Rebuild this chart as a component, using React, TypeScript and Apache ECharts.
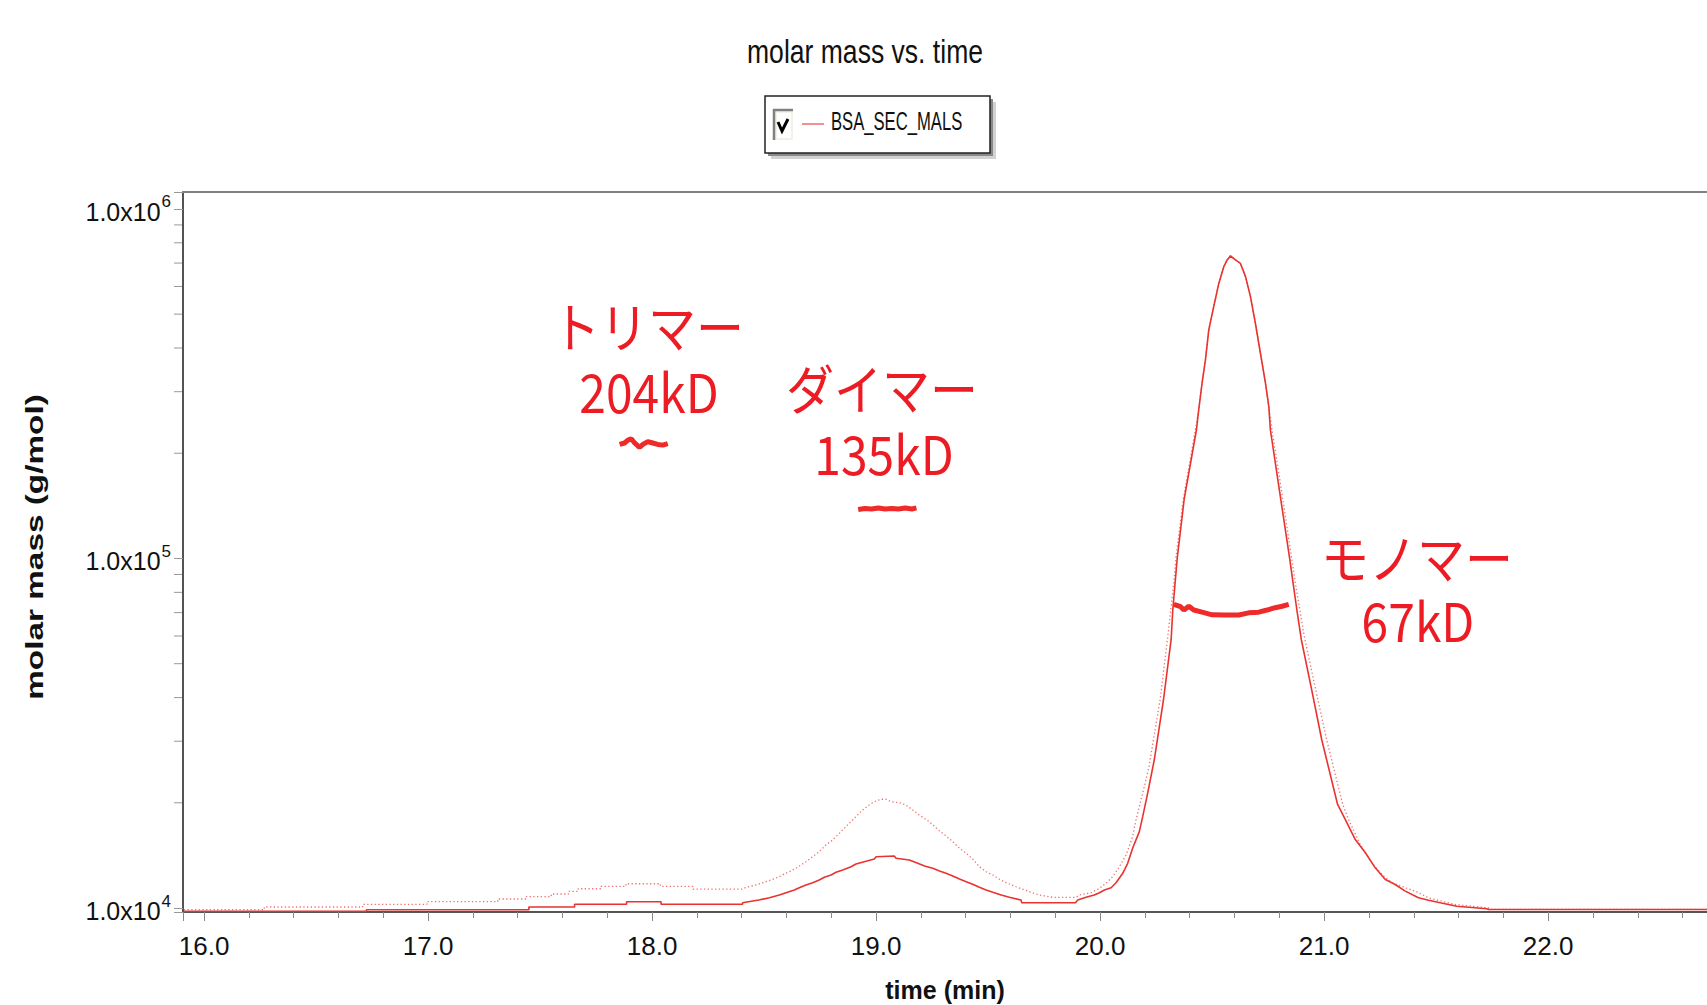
import React, { useEffect, useRef } from 'react';
import * as echarts from 'echarts';

const SANS = "'Liberation Sans', Arial, sans-serif";
const JP = "'Noto Sans CJK JP', sans-serif";

// axis extents (time in min, molar mass in g/mol)
const xMin = 15.906;
const xMax = 22.709;
const yMin = 9741;
const yMax = 1118000;

const legendNames = ['BSA_SEC_MALS'];
const chartTitle = 'molar mass vs. time';
const xName = 'time (min)';
const yName = 'molar mass (g/mol)';
const peakLabels = ['トリマー', '204kD', 'ダイマー', '135kD', 'モノマー', '67kD'];

// minor tick values of the log axis
const yMinorTicks = [20000, 30000, 40000, 50000, 60000, 70000, 80000, 90000,
  200000, 300000, 400000, 500000, 600000, 700000, 800000, 900000];

// solid trace [time, value]
const solidTrace: number[][] = [
  [15.91, 9785], [16.725, 9785], [16.725, 9889], [17.45, 9889], [17.45, 10066],
  [17.654, 10066], [17.654, 10247], [17.886, 10247], [17.886, 10424], [18.04, 10424],
  [18.04, 10247], [18.404, 10247], [18.404, 10355], [18.476, 10541], [18.524, 10702],
  [18.568, 10894], [18.598, 11060], [18.635, 11259], [18.657, 11431], [18.687, 11637],
  [18.717, 11815], [18.746, 12027], [18.769, 12243], [18.799, 12427], [18.821, 12651],
  [18.851, 12844], [18.888, 13127], [18.91, 13362], [18.947, 13566], [18.992, 13811],
  [19.0, 14022], [19.081, 14087], [19.089, 13875], [19.148, 13721], [19.186, 13427],
  [19.216, 13190], [19.253, 12989], [19.283, 12760], [19.312, 12568], [19.342, 12346],
  [19.372, 12104], [19.402, 11891], [19.431, 11689], [19.461, 11460], [19.491, 11259],
  [19.521, 11090], [19.558, 10894], [19.595, 10730], [19.647, 10541], [19.65, 10355],
  [19.89, 10355], [19.9, 10541], [19.937, 10730], [19.974, 10894], [19.997, 11060],
  [20.019, 11259], [20.049, 11431], [20.071, 11815], [20.101, 12568], [20.123, 13427],
  [20.145, 14823], [20.175, 16537], [20.19, 18251], [20.212, 21291], [20.242, 26600],
  [20.283, 39500], [20.317, 58650], [20.3245, 71450], [20.336, 87080], [20.344, 100000],
  [20.375, 147500], [20.43, 233500], [20.44, 266000], [20.455, 317200], [20.47, 369800],
  [20.485, 450600], [20.507, 525400], [20.53, 613100], [20.552, 683700], [20.567, 714600],
  [20.582, 734000], [20.604, 714600], [20.626, 699000], [20.649, 640200], [20.671, 561200],
  [20.693, 471000], [20.708, 412800], [20.723, 361900], [20.738, 317200], [20.753, 271900],
  [20.76, 233500], [20.793, 168300], [20.846, 100000], [20.859, 87100], [20.878, 71450],
  [20.898, 58650], [20.944, 42200], [20.989, 30350], [21.06, 19780], [21.094, 17920],
  [21.139, 15700], [21.184, 14390], [21.228, 13030], [21.273, 12065], [21.317, 11676],
  [21.362, 11175], [21.421, 10699], [21.466, 10530], [21.518, 10350], [21.592, 10122],
  [21.726, 9951], [21.733, 9907], [22.709, 9907],
];

// dotted trace [time, value]
const dottedTrace: number[][] = [
  [15.91, 9889], [16.269, 9889], [16.269, 10066], [16.708, 10066], [16.708, 10247],
  [16.995, 10247], [16.995, 10424], [17.311, 10424], [17.311, 10611], [17.439, 10611],
  [17.439, 10785], [17.55, 10785], [17.55, 10966], [17.627, 10966], [17.627, 11163],
  [17.67, 11163], [17.67, 11355], [17.772, 11355], [17.772, 11534], [17.883, 11534],
  [17.883, 11733], [18.037, 11733], [18.037, 11534], [18.182, 11534], [18.182, 11332],
  [18.404, 11332], [18.419, 11460], [18.464, 11637], [18.508, 11891], [18.538, 12082],
  [18.568, 12291], [18.59, 12512], [18.613, 12702], [18.642, 12989], [18.657, 13190],
  [18.687, 13566], [18.717, 14022], [18.746, 14495], [18.776, 15148], [18.806, 15656],
  [18.836, 16362], [18.865, 17087], [18.895, 17858], [18.917, 18457], [18.94, 19077],
  [18.969, 19715], [18.992, 20149], [19.021, 20470], [19.044, 20470], [19.066, 20149],
  [19.103, 20016], [19.133, 19715], [19.163, 19077], [19.193, 18457], [19.237, 17659],
  [19.282, 16645], [19.312, 16071], [19.342, 15481], [19.372, 14823], [19.402, 14343],
  [19.431, 13811], [19.461, 13127], [19.491, 12702], [19.521, 12427], [19.551, 12082],
  [19.58, 11815], [19.625, 11503], [19.684, 11134], [19.729, 10894], [19.788, 10730],
  [19.892, 10730], [19.907, 10894], [19.959, 11060], [19.997, 11385], [20.026, 11765],
  [20.056, 12291], [20.086, 13127], [20.116, 14183], [20.145, 15995], [20.16, 17858],
  [20.175, 19495], [20.197, 22240], [20.218, 25371], [20.268, 39500], [20.303, 60600],
  [20.329, 85380], [20.338, 100000], [20.371, 147500], [20.425, 233500], [20.44, 266000],
  [20.455, 317200], [20.47, 369800], [20.485, 450600], [20.507, 525400], [20.53, 613100],
  [20.552, 683700], [20.567, 714600], [20.582, 734000], [20.604, 714600], [20.626, 699000],
  [20.649, 640200], [20.671, 561200], [20.693, 471000], [20.708, 412800], [20.723, 361900],
  [20.738, 317200], [20.753, 271900], [20.767, 233500], [20.802, 168300], [20.855, 100000],
  [20.87, 86100], [20.911, 59950], [20.962, 42200], [21.011, 30350], [21.083, 19780],
  [21.109, 17920], [21.161, 15195], [21.213, 13470], [21.258, 12470], [21.302, 11810],
  [21.362, 11426], [21.407, 11172], [21.466, 10696], [21.525, 10459], [21.585, 10233],
  [21.733, 10014], [21.74, 9907], [22.709, 9907],
];

// molar mass results [time, g/mol]
const trimerMass: number[][] = [
  [17.855, 212000], [17.877, 214000], [17.892, 218000], [17.907, 220000], [17.922, 214000],
  [17.944, 208000], [17.959, 212000], [17.981, 216000], [18.003, 214000], [18.025, 212000],
  [18.048, 211000], [18.07, 213000],
];
const dimerMass: number[][] = [
  [18.92, 138000], [18.95, 139000], [18.98, 138500], [19.01, 139500], [19.04, 138500],
  [19.07, 139000], [19.1, 138500], [19.13, 139500], [19.16, 138500], [19.18, 139500],
];
const monomerMass: number[][] = [
  [20.329, 73900], [20.359, 72800], [20.374, 71200], [20.396, 73000], [20.418, 71200],
  [20.455, 70200], [20.5, 69000], [20.56, 68900], [20.619, 68900], [20.663, 69900],
  [20.708, 70200], [20.745, 71200], [20.782, 72300], [20.812, 73000], [20.842, 73900],
];

const RED = '#e8332f';
const MASS_RED = '#ee2a2a';
const TEXT_RED = '#ed1c24';

function massSeries(name: string, data: number[][]) {
  return {
    name,
    type: 'line',
    data,
    symbol: 'none',
    showSymbol: false,
    silent: true,
    z: 5,
    lineStyle: { color: MASS_RED, width: 5, cap: 'butt' },
    emphasis: { disabled: true },
  };
}

function annotation(text: string, x: number, y: number) {
  return {
    type: 'text',
    x,
    y,
    scaleY: 1.12,
    silent: true,
    style: {
      text,
      fill: TEXT_RED,
      fontFamily: JP,
      fontSize: 48,
      textAlign: 'center',
      textVerticalAlign: 'middle',
    },
  };
}

export default function App() {
  const ref = useRef<HTMLDivElement>(null);
  useEffect(() => {
    const chart = echarts.init(ref.current!, null, { renderer: 'svg', width: 1707, height: 1005 });
    const option: any = {
      animation: false,
      backgroundColor: '#ffffff',
      grid: {
        left: 183,
        right: 0,
        top: 192,
        bottom: 93,
        containLabel: false,
        outerBoundsMode: 'none',
      },
      xAxis: [
        {
          type: 'value',
          min: xMin,
          max: xMax,
          splitNumber: 6,
          name: xName,
          nameLocation: 'middle',
          nameGap: 65,
          nameTextStyle: { fontFamily: SANS, fontWeight: 'bold', fontSize: 25, color: '#111' },
          axisLine: { show: true, onZero: false, lineStyle: { color: '#555', width: 2 } },
          axisTick: { show: true, length: 9, lineStyle: { color: '#888', width: 1 } },
          minorTick: { show: true, splitNumber: 5, length: 6, lineStyle: { color: '#888', width: 1 } },
          splitLine: { show: false },
          minorSplitLine: { show: false },
          axisLabel: {
            margin: 21,
            fontFamily: SANS,
            fontSize: 26,
            color: '#111',
            formatter: (v: number) => (Math.abs(v - Math.round(v)) < 1e-6 ? v.toFixed(1) : ''),
          },
        },
        {
          type: 'value',
          position: 'top',
          min: xMin,
          max: xMax,
          axisLine: { show: true, onZero: false, lineStyle: { color: '#808080', width: 2 } },
          axisTick: { show: false },
          axisLabel: { show: false },
          splitLine: { show: false },
        },
      ],
      yAxis: {
        type: 'log',
        logBase: 10,
        min: yMin,
        max: yMax,
        axisLine: { show: true, lineStyle: { color: '#1a1a1a', width: 1.5 } },
        axisTick: { show: true, length: 9, lineStyle: { color: '#999', width: 1 } },
        splitLine: { show: false },
        axisLabel: {
          margin: 12,
          formatter: (v: number) => {
            const e = Math.log10(v);
            const r = Math.round(e);
            if (Math.abs(e - r) > 1e-6) return '';
            return `{b|1.0x10}{s|${r}}`;
          },
          rich: {
            b: { fontFamily: SANS, fontSize: 25, color: '#111', padding: [6, 0, 0, 0] },
            s: { fontFamily: SANS, fontSize: 17, color: '#111', verticalAlign: 'top', padding: [0, 0, 0, 1] },
          },
        },
      },
      series: [
        {
          name: 'dotted',
          type: 'line',
          data: dottedTrace,
          symbol: 'none',
          showSymbol: false,
          silent: true,
          z: 2,
          lineStyle: { color: 'rgba(232,51,47,0.7)', width: 1.3, type: [1.3, 2.4] },
          emphasis: { disabled: true },
        },
        {
          name: legendNames[0],
          type: 'line',
          data: solidTrace,
          symbol: 'none',
          showSymbol: false,
          silent: true,
          z: 3,
          lineStyle: { color: RED, width: 1.6 },
          itemStyle: { color: RED },
          emphasis: { disabled: true },
        },
        massSeries('trimer', trimerMass),
        massSeries('dimer', dimerMass),
        massSeries('monomer', monomerMass),
        {
          name: 'minorTicks',
          type: 'custom',
          silent: true,
          clip: false,
          data: yMinorTicks.map((v) => [xMin, v]),
          renderItem: (params: any, api: any) => {
            const p = api.coord([api.value(0), api.value(1)]);
            return {
              type: 'line',
              shape: { x1: p[0] - 9, y1: p[1], x2: p[0] - 1, y2: p[1] },
              style: { stroke: '#999', lineWidth: 1 },
            };
          },
        },
      ],
      graphic: [
        {
          type: 'text',
          x: 865,
          y: 51,
          scaleX: 0.83,
          scaleY: 1.04,
          silent: true,
          style: {
            text: chartTitle,
            fill: '#111',
            fontFamily: SANS,
            fontSize: 32,
            textAlign: 'center',
            textVerticalAlign: 'middle',
          },
        },
        { type: 'rect', z: 1, silent: true, shape: { x: 771, y: 102, width: 225, height: 57 }, style: { fill: '#d2d2d2' } },
        { type: 'rect', z: 2, silent: true, shape: { x: 768, y: 99, width: 225, height: 57 }, style: { fill: '#8a8a8a' } },
        { type: 'rect', z: 3, silent: true, shape: { x: 765, y: 96, width: 225, height: 57 }, style: { fill: '#fff', stroke: '#222', lineWidth: 1.5 } },
        { type: 'rect', z: 4, silent: true, shape: { x: 773, y: 109, width: 20, height: 31 }, style: { fill: '#f3f1e8' } },
        { type: 'polyline', z: 5, silent: true, shape: { points: [[774, 140], [774, 110], [793, 110]] }, style: { stroke: '#808080', lineWidth: 2.5, fill: null } },
        { type: 'rect', z: 5, silent: true, shape: { x: 777, y: 113, width: 14, height: 25 }, style: { fill: '#ffffff' } },
        { type: 'polyline', z: 6, silent: true, shape: { points: [[778, 122], [782, 131], [788, 119]] }, style: { stroke: '#000', lineWidth: 3, fill: null } },
        { type: 'line', z: 6, silent: true, shape: { x1: 802, y1: 124, x2: 824, y2: 124 }, style: { stroke: '#f06a6a', lineWidth: 1.5 } },
        {
          type: 'text',
          z: 6,
          x: 831,
          y: 121,
          scaleX: 0.64,
          silent: true,
          style: {
            text: legendNames[0],
            fill: '#111',
            fontFamily: SANS,
            fontSize: 26,
            textAlign: 'left',
            textVerticalAlign: 'middle',
          },
        },
        {
          type: 'text',
          x: 35,
          y: 547,
          rotation: Math.PI / 2,
          scaleX: 1.45,
          silent: true,
          style: {
            text: yName,
            fill: '#111',
            fontFamily: SANS,
            fontWeight: 'bold',
            fontSize: 23,
            textAlign: 'center',
            textVerticalAlign: 'middle',
          },
        },
        annotation(peakLabels[0], 648, 325),
        annotation(peakLabels[1], 649, 390),
        annotation(peakLabels[2], 882, 387),
        annotation(peakLabels[3], 884, 452),
        annotation(peakLabels[4], 1417, 556),
        annotation(peakLabels[5], 1418, 619),
      ],
    };
    chart.setOption(option);
    return () => chart.dispose();
  }, []);
  return (
    <div
      ref={ref}
      style={{ position: 'absolute', left: 0, top: 0, width: 1707, height: 1005, background: '#fff' }}
    />
  );
}
